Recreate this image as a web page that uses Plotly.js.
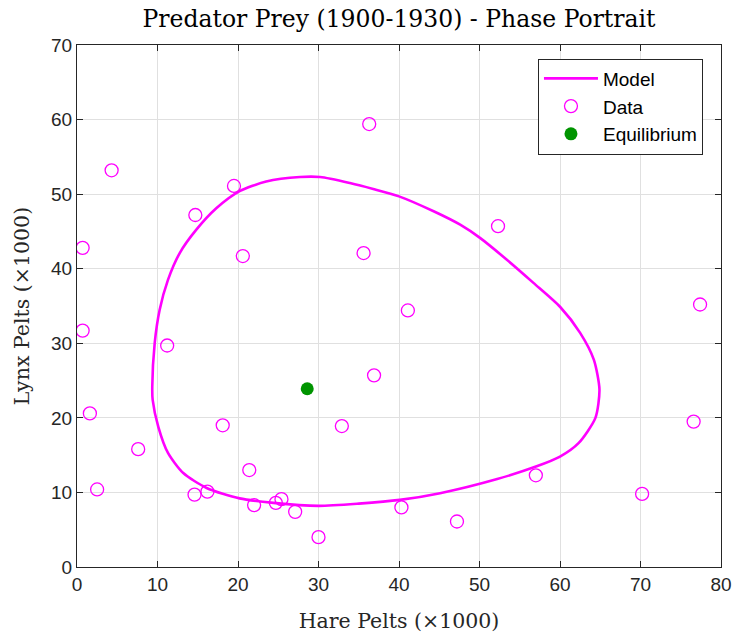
<!DOCTYPE html>
<html>
<head>
<meta charset="utf-8">
<script src="https://cdn.plot.ly/plotly-3.0.1.min.js"></script>
<style>html,body{margin:0;padding:0;background:#fff;}#chart{width:735px;height:635px;}</style>
</head>
<body>
<div id="chart"></div>
<script>
// Observed pelts (x1000), 1900-1930
var hareData = [30, 47.2, 70.2, 77.4, 36.3, 20.6, 18.1, 21.4, 22, 25.4, 27.1, 40.3, 57, 76.6, 52.3, 19.5, 11.2, 7.6, 14.6, 16.2, 24.7,
                32.9, 36.9, 41.1, 35.6, 14.7, 4.3, 0.7, 0.7, 1.6, 2.5];
var lynxData = [4, 6.1, 9.8, 35.2, 59.4, 41.7, 19, 13, 8.3, 9.1, 7.4, 8, 12.3, 19.5, 45.7, 51.1, 29.7, 15.8, 9.7, 10.1, 8.6,
                18.9, 25.7, 34.4, 42.1, 47.2, 53.2, 42.8, 31.7, 20.6, 10.4];

// Model orbit
var modelHare = [9.35, 9.65, 10.27, 11.3, 12.76, 14.8, 17.3, 20.2, 23.5, 27.7, 30.2, 33.9, 36.8, 40.0, 44.3, 47.6, 50.1, 53.4, 56.7,
                 60.0, 62.5, 64.2, 64.9, 64.4, 62.3, 60.0, 57.1, 52.2, 45.1, 40.1, 35.0, 30.0, 24.4, 20.2, 16.1, 13.2, 11.3, 10.1, 9.4, 9.35];
var modelLynx = [24.2, 30.0, 34.5, 38.5, 42.1, 45.2, 48.1, 50.4, 51.7, 52.3, 52.3, 51.5, 50.7, 49.7, 47.7, 45.9, 44.1, 41.2, 38.1,
                 34.9, 31.4, 27.8, 23.8, 20.0, 16.6, 14.8, 13.5, 11.8, 9.9, 9.0, 8.5, 8.2, 8.6, 9.2, 10.6, 12.6, 15.3, 18.8, 22.4, 24.2];

var eqHare = [28.6];
var eqLynx = [23.9];

var xTicks = [0, 10, 20, 30, 40, 50, 60, 70, 80];
var yTicks = [0, 10, 20, 30, 40, 50, 60, 70];

var traces = [
  {x: modelHare, y: modelLynx, mode: 'lines', name: 'Model',
   line: {color: '#ff00ff', width: 2.6, shape: 'spline', smoothing: 0.7}},
  {x: hareData, y: lynxData, mode: 'markers', name: 'Data',
   marker: {symbol: 'circle-open', size: 13, color: '#ff00ff', line: {width: 1.3, color: '#ff00ff'}}},
  {x: eqHare, y: eqLynx, mode: 'markers', name: 'Equilibrium',
   marker: {symbol: 'circle', size: 13, color: '#009400'}}
];

var serif = 'DejaVu Serif, Liberation Serif, serif';
var sans = 'Liberation Sans, Arial, sans-serif';

var axisCommon = {
  showline: true, linecolor: '#262626', linewidth: 1, mirror: 'allticks',
  ticks: 'inside', ticklen: 6, tickcolor: '#262626',
  showgrid: true, gridcolor: '#e0e0e0', gridwidth: 1, zeroline: false,
  tickfont: {family: sans, size: 19, color: '#262626'}
};

var layout = {
  width: 735, height: 635,
  margin: {l: 77, r: 14, t: 45, b: 68},
  paper_bgcolor: '#ffffff', plot_bgcolor: '#ffffff',
  title: {text: 'Predator Prey (1900-1930) - Phase Portrait', x: 0.5, xref: 'paper', xanchor: 'center',
          y: 1 - 19 / 635, yref: 'container', yanchor: 'middle',
          font: {family: serif, size: 23.5, color: '#000'}},
  xaxis: Object.assign({}, axisCommon, {
    range: [0, 80], tickvals: xTicks, ticktext: xTicks.map(String),
    title: {text: 'Hare Pelts (×1000)', standoff: 19,
            font: {family: serif, size: 20.5, color: '#262626'}}
  }),
  yaxis: Object.assign({}, axisCommon, {
    range: [0, 70], tickvals: yTicks, ticktext: yTicks.map(String),
    title: {text: 'Lynx Pelts (×1000)', standoff: 15,
            font: {family: serif, size: 20.5, color: '#262626'}}
  }),
  showlegend: true,
  legend: {x: 0.972, y: 0.974, xanchor: 'right', yanchor: 'top',
           bgcolor: '#ffffff', bordercolor: '#262626', borderwidth: 1,
           itemwidth: 54,
           font: {family: sans, size: 19, color: '#000'}}
};

Plotly.newPlot('chart', traces, layout, {displayModeBar: false, staticPlot: true});
</script>
</body>
</html>
